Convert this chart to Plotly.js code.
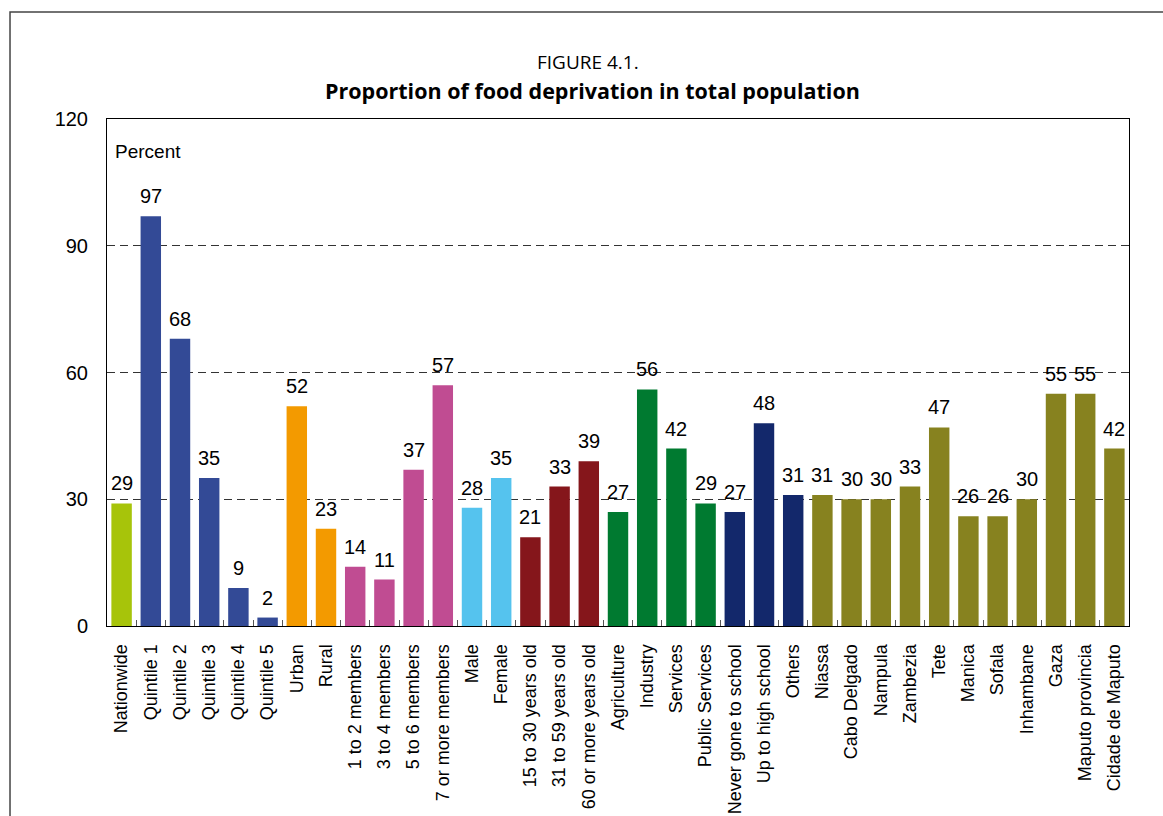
<!DOCTYPE html>
<html>
<head>
<meta charset="utf-8">
<script src="https://cdn.plot.ly/plotly-3.0.1.min.js"></script>
<style>html,body{margin:0;padding:0;background:#fff;}#chart{width:1163px;height:816px;}</style>
</head>
<body>
<div id="chart"></div>
<script>
const categories = ["Nationwide","Quintile 1","Quintile 2","Quintile 3","Quintile 4","Quintile 5","Urban","Rural","1 to 2 members","3 to 4 members","5 to 6 members","7 or more members","Male","Female","15 to 30 years old","31 to 59 years old","60 or more years old","Agriculture","Industry","Services","Public Services","Never gone to school","Up to high school","Others","Niassa","Cabo Delgado","Nampula","Zambezia","Tete","Manica","Sofala","Inhambane","Gaza","Maputo provincia","Cidade de Maputo"];
const values = [29,97,68,35,9,2,52,23,14,11,37,57,28,35,21,33,39,27,56,42,29,27,48,31,31,30,30,33,47,26,26,30,55,55,42];
const groups = ["national","quintile","quintile","quintile","quintile","quintile","area","area","hh","hh","hh","hh","sex","sex","age","age","age","sector","sector","sector","sector","edu","edu","edu","prov","prov","prov","prov","prov","prov","prov","prov","prov","prov","prov"];
const yTicks = [0,30,60,90,120];
const titleLine1 = "FIGURE 4.1.";
const titleLine2 = "Proportion of food deprivation in total population";

const palette = {national:"#A7C40A",quintile:"#334A96",area:"#F39A00",hh:"#C04C92",sex:"#55C3EE",age:"#85161B",sector:"#007A30",edu:"#13286B",prov:"#87821F"};
const font = "'Liberation Sans',Arial,sans-serif";
const titleFont = "'Open Sans','Noto Sans',sans-serif";

const trace = {
  type:"bar", x:categories, y:values,
  marker:{color:groups.map(g=>palette[g])},
  width:0.7, hoverinfo:"x+y"
};

const annotations = categories.map((c,i)=>({
  x:c, y:values[i], xref:"x", yref:"y", text:String(values[i]),
  showarrow:false, yanchor:"bottom", yshift:7,
  font:{family:font,size:20,color:"#000"}
}));
annotations.push({xref:"paper",yref:"y",x:0.006,y:112.3,text:"Percent",showarrow:false,xanchor:"left",yanchor:"middle",font:{family:font,size:19,color:"#000"}});
annotations.push({xref:"paper",yref:"paper",x:0.471,y:1.112,text:titleLine1,showarrow:false,xanchor:"center",yanchor:"middle",font:{family:titleFont,size:19,color:"#000"}});
annotations.push({xref:"paper",yref:"paper",x:0.475,y:1.057,text:"<b>"+titleLine2+"</b>",showarrow:false,xanchor:"center",yanchor:"middle",font:{family:titleFont,size:21.5,color:"#000"}});

const layout = {
  width:1163, height:816,
  margin:{l:107,r:34,t:119,b:190},
  paper_bgcolor:"#fff", plot_bgcolor:"#fff",
  showlegend:false,
  xaxis:{type:"category", showline:true, linecolor:"#000", linewidth:1, mirror:true,
    ticks:"inside", tickson:"boundaries", ticklen:6, tickcolor:"#555",
    tickangle:-90, tickfont:{family:font,size:18,color:"#000"}, ticklabelstandoff:10,
    showgrid:false, fixedrange:true},
  yaxis:{range:[0,120], tickvals:yTicks, ticktext:yTicks.map(String),
    showline:true, linecolor:"#000", linewidth:1, mirror:true, ticks:"",
    showgrid:true, gridcolor:"#333", griddash:"8px,5px", gridwidth:1,
    tickfont:{family:font,size:20,color:"#000"}, ticklabelstandoff:14,
    zeroline:false, fixedrange:true},
  bargap:0.3,
  annotations:annotations,
  shapes:[{type:"rect",xref:"paper",yref:"paper",x0:-0.0949,x1:1.05,y0:-0.45,y1:1.211,line:{color:"#444",width:1.5},layer:"below"}]
};

Plotly.newPlot("chart",[trace],layout,{displayModeBar:false,staticPlot:true});
</script>
</body>
</html>
